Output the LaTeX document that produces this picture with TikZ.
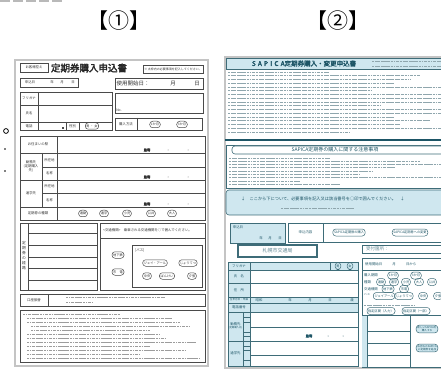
\documentclass[tikz,border=0pt]{standalone}
\usepackage{fontspec}
\newfontfamily\jp{Noto Sans CJK JP}
\newfontfamily\jpb[FakeBold=2.5]{Noto Sans CJK JP}
\usetikzlibrary{shapes.geometric}
\definecolor{lgray}{HTML}{4A4A4A}
\definecolor{pgray}{HTML}{C4C4C4}
\definecolor{rblue}{HTML}{CFE7EF}
\definecolor{rline}{HTML}{3E6C78}
\definecolor{rdark}{HTML}{1D5566}
\definecolor{blurc}{HTML}{9C9C9C}
\definecolor{rblurc}{HTML}{8FA6AD}
\newcommand\myov[4][ov]{\node[#1] (#2) at (#3) {#4};}
\begin{document}
\begin{tikzpicture}[x=1pt,y=-1pt,
  lb/.style={draw=lgray,line width=0.6pt},
  rb/.style={draw=rline,line width=0.6pt},
  tx/.style={font=\jp\fontsize{3.4}{3.8}\selectfont,text=black!80,inner sep=0pt},
  rtx/.style={font=\jp\fontsize{3.4}{3.8}\selectfont,text=rdark,inner sep=0pt},
  ov/.style={draw=lgray,line width=0.5pt,rounded corners=3pt,minimum height=6.5pt,inner sep=1.2pt,font=\jp\fontsize{3.2}{3.2}\selectfont,text=black!80},
  rov/.style={draw=rline,line width=0.5pt,rounded corners=3pt,minimum height=7pt,inner sep=1.2pt,font=\jp\fontsize{3.2}{3.2}\selectfont,text=rdark},
  bl/.style={draw=blurc,line width=1pt,dash pattern=on 2.2pt off 0.6pt on 1.4pt off 0.5pt on 3pt off 0.9pt},
  rbl/.style={draw=rblurc,line width=0.9pt,dash pattern=on 2.4pt off 0.6pt on 1.6pt off 0.5pt on 3.2pt off 1pt},
]
\useasboundingbox (0,0) rectangle (441,371);
\clip (0,0) rectangle (441,371);
\fill[white] (0,0) rectangle (441,371);

% top-left marks and cut-off characters
\foreach \x in {0,13,26,39,52} \fill[gray!55] (\x,0) rectangle (\x+10,2.2);
\draw[black,line width=0.8pt] (6,131) circle (2.4);
\fill[black] (5,149) circle (0.9);
\fill[black] (5,171) circle (0.9);

% labels
\node[font=\jp\fontsize{21}{21}\selectfont] (lab1) at (119,21) {【①】};
\node[font=\jp\fontsize{21}{21}\selectfont] (lab2) at (338,21) {【②】};

%================ LEFT PAGE =================
\draw[pgray,line width=1.3pt] (15,60) rectangle (208,366);
% header
\draw[lb] (20,63) rectangle (48,72);
\node[tx] (hA) at (34,67.5) {お客様控え};
\node[font=\jpb\fontsize{9.5}{9.5}\selectfont,text=black!85] (hT) at (89,68) {定期券購入申込書};
\draw[lb] (143,65) rectangle (203,73);
\node[tx,font=\jp\fontsize{3}{3}\selectfont] (hR) at (173,69) {※ 太枠内の必要事項を記入してください。};
% date rows
\draw[lb] (20,78) rectangle (78,87);
\node[tx] (d1) at (30,82.5) {申込日};
\node[tx] (d2) at (52,82.5) {年};
\node[tx] (d3) at (62,82.5) {月};
\node[tx] (d4) at (73,82.5) {日};
\draw[lb] (115,78) rectangle (203,89);
\node[font=\jp\fontsize{5.5}{5.5}\selectfont,text=black!80,inner sep=0pt] (u1) at (133,83.5) {使用開始日：};
\node[font=\jp\fontsize{5.5}{5.5}\selectfont,text=black!80,inner sep=0pt] (u2) at (173,83.5) {月};
\node[font=\jp\fontsize{5.5}{5.5}\selectfont,text=black!80,inner sep=0pt] (u3) at (197,83.5) {日};
% name block
\draw[lb] (20,92) rectangle (112,130);
\draw[lb] (20,105) -- (112,105) (20,122) -- (112,122) (38,92) -- (38,130);
\node[tx] (n1) at (29,98.5) {フリガナ};
\node[tx] (n2) at (29,113.5) {氏名};
\node[tx] (n3) at (29,126) {電話};
\fill[lgray] (62,127) rectangle (64,129);
\draw[lb] (66,122) -- (66,130) (79,122) -- (79,130);
\node[tx] (n4) at (72.5,126) {性別};
\myov{n5}{92,126}{男 ・ 女}
% right blocks
\draw[lb] (115,93) rectangle (203,113);
\node[tx] (r0) at (119,110) {No.};
\draw[lb] (115,118) rectangle (202,130);
\draw[lb] (137,118) -- (137,130);
\node[tx] (r1) at (126,124) {購入方法};
\myov{r2}{155,124.5}{1か月}
\myov{r3}{182,124.5}{3か月}
% big table
\draw[lb] (20,136) rectangle (205,220);
\draw[lb] (20,153) -- (205,153) (42,167) -- (205,167) (20,180) -- (205,180)
          (42,193) -- (205,193) (20,207) -- (205,207)
          (57,136) -- (57,220) (42,153) -- (42,207);
\node[tx] (b1) at (38,144.5) {お住まいの駅};
\node[tx,align=center] (b2) at (31,166.5) {勤務先\\(定期購入\\先)};
\node[tx] (b3) at (31,193.5) {通学先};
\node[tx] (b4) at (49.5,160) {所在地};
\node[tx] (b5) at (49.5,173.5) {名称};
\node[tx] (b6) at (49.5,186.5) {所在地};
\node[tx] (b7) at (49.5,200) {名称};
\node[tx,font=\jpb\fontsize{3.4}{3.4}\selectfont] (m1) at (147,150) {最寄};
\node[tx,font=\jpb\fontsize{3.4}{3.4}\selectfont] (m2) at (147,177) {最寄};
\node[tx,font=\jpb\fontsize{3.4}{3.4}\selectfont] (m3) at (147,204) {最寄};
\foreach \yy in {150,177,204} {\fill[gray] (168,\yy) circle (0.5); \fill[gray] (188,\yy) circle (0.5);}
\node[tx] (b8) at (38,213.5) {定期券の種類};
\myov{k1}{83,213.5}{通勤}
\myov{k2}{104,213.5}{通学}
\myov{k3}{127,213.5}{小児}
\myov{k4}{151,213.5}{公共}
\myov{k5}{172,213.5}{大人}
% route box
\draw[lb] (20,223) rectangle (97,290);
\draw[lb] (28,223) -- (28,290);
\foreach \yy in {233,245,257,268,280} \draw[lb] (28,\yy) -- (97,\yy);
\node[tx,align=center,font=\jp\fontsize{3.8}{5}\selectfont] (v1) at (24,256) {定\\期\\券\\の\\経\\路};
\draw[lb] (100,223) rectangle (205,290);
\draw[lb] (100,238) -- (205,238);
\node[tx,anchor=west] (c1) at (103,230.5) {<交通機関>\quad 乗車される交通機関を○で囲んでください。};
\draw[lb] (132,245) rectangle (202,287);
\node[tx,anchor=west] (c2) at (135,250) {[バス]};
\myov{c3}{118,255}{地下鉄}
\myov{c4}{118,272}{市　電}
\myov{c5}{155,263}{ジェイ・アール}
\myov{c6}{188,263}{じょうてつ}
\myov{c7}{147,276}{中央}
\myov{c8}{167,276}{ばんけい}
\myov{c9}{192,276}{夕張}
% bank row
\draw[lb] (20,294) rectangle (205,306);
\draw[lb] (48,294) -- (48,306);
\node[tx] (p1) at (34,300) {口座振替};
\draw[bl,line width=0.8pt] (66,297.5) -- (165,297.5);
\draw[bl,line width=0.8pt] (66,302) -- (92,302);
% notes
\draw[lb] (20,310) rectangle (205,362);
\foreach \yy/\a/\b in {314/23/120,318/27/172,322/27/180,326/31/190,330/31/150,334/27/160,338/27/165,342/27/196,346/27/150,350/27/185,354/27/140,358/27/200}
  \draw[bl,line width=0.9pt] (\a,\yy) -- (\b,\yy);

%================ RIGHT PAGE =================
\draw[pgray,line width=1.3pt] (225,57) rectangle (460,368);
\fill[rblue] (226,58) rectangle (441,69);
\draw[rb] (226,58) rectangle (460,69);
\node[font=\jpb\fontsize{6.5}{6.5}\selectfont,text=rdark,inner sep=0pt] (sT) at (304,63.5) {S\,\,A\,\,P\,\,I\,\,C\,\,A定期券購入・変更申込書};
\draw[rbl,line width=0.7pt] (372,61) -- (441,61);
\draw[rbl,line width=0.7pt] (372,66) -- (441,66);
% intro text lines
\foreach \i/\b in {0/330,1/420,2/410,3/395,4/441,5/372,6/441,7/441,8/441,9/380,10/441,11/441,12/395,13/430,14/400,15/441,16/350}
  \draw[rbl] (228,{72+\i*3.75}) -- (\b,{72+\i*3.75});
\draw[rdark,line width=2pt] (225,140) -- (441,140);
% cautions box
\draw[rb] (226,145) rectangle (460,188);
\draw[rb,fill=white,rounded corners=3pt] (232,146) rectangle (455,154);
\node[font=\jp\fontsize{5}{5}\selectfont,text=rdark,inner sep=0pt] (sC) at (335,150) {SAPICA定期券の購入に関する注意事項};
\foreach \i/\b in {0/330,1/420,2/441,3/395,4/372,5/360,6/441,7/300,8/340}
  \draw[rbl,line width=0.8pt] (229,{158+\i*3.3}) -- (\b,{158+\i*3.3});
% banner
\draw[rb,fill=rblue,rounded corners=3pt] (226,190) rectangle (455,215);
\node[font=\jp\fontsize{4.2}{4.2}\selectfont,text=rdark,inner sep=0pt,anchor=west] (sB) at (241,199) {↓\quad ここから下について、必要事項を記入又は該当番号を○印で囲んでください。\quad ↓};
\draw[rbl,line width=0.7pt] (281,208) -- (355,208);
% apply date
\draw[rb,fill=rblue] (230,223) rectangle (285,243);
\node[rtx] (a1) at (238,227) {申込日};
\node[rtx] (a2) at (261,238.5) {年};
\node[rtx] (a3) at (270,238.5) {月};
\node[rtx] (a4) at (280,238.5) {日};
\draw[rb] (288,223) rectangle (460,242);
\draw[rb] (323,223) -- (323,242);
\node[rtx] (a5) at (305.5,232.5) {申込内容};
\myov[rov]{a6}{349,232.5}{SAPICA定期券の購入}
\myov[rov]{a7}{410,232.5}{SAPICA定期券への変更}
% office
\draw[rline,line width=1.1pt] (238,245) rectangle (317,257);
\node[font=\jp\fontsize{5}{5}\selectfont,text=rdark!70,inner sep=0pt] (o1) at (277.5,251) {札幌市交通局};
\draw[rb] (362,245) rectangle (460,253);
\node[font=\jp\fontsize{4.5}{4.5}\selectfont,text=rdark!70,inner sep=0pt,anchor=west] (o2) at (366,249) {受付箇所：};
% left form table
\fill[rblue] (228,262) rectangle (358,270);
\fill[rblue] (228,297) rectangle (358,312);
\fill[rblue] (228,270) rectangle (250,297);
\fill[rblue] (228,312) rectangle (250,366);
\draw[rb] (228,262) rectangle (358,366);
\foreach \yy in {270,283,297,303,312,341} \draw[rb] (228,\yy) -- (358,\yy);
\draw[rb] (250,327) -- (358,327) (250,355) -- (358,355);
\draw[rb] (250,262) -- (250,366) (243,312) -- (243,366);
\foreach \yy in {317,322,332,336,346,350,360} \draw[rline,line width=0.3pt] (243,\yy) -- (250,\yy);
\node[rtx] (f1) at (239,266) {フリガナ};
\node[rtx] (f2) at (239,276.5) {氏\quad 名};
\node[rtx] (f3) at (239,290) {住\quad 所};
\node[rtx,font=\jp\fontsize{2.6}{2.6}\selectfont] (f4) at (239,300) {生年月日・年齢};
\node[rtx] (f5) at (239,307.5) {電話番号};
\node[rtx,align=center] (f6) at (235.5,326) {勤務先\\[-1pt]{\fontsize{2.4}{2.4}\selectfont (定期購入先)}};
\node[rtx] (f7) at (235.5,353.5) {通学先};
\draw[rb] (330,262) -- (330,270);
\myov[rov]{f8}{338,266}{男}
\myov[rov]{f9}{350,266}{女}
\node[rtx] (g1) at (259,300) {昭和};
\node[rtx] (g2) at (290,300) {年};
\node[rtx] (g3) at (310,300) {月};
\node[rtx] (g4) at (330,300) {日};
\node[rtx] (g5) at (352,300) {歳};
\node[rtx,font=\jpb\fontsize{3.4}{3.4}\selectfont] (g6) at (309,336) {最寄};
\fill[rline] (328,336) circle (0.5); \fill[rline] (343,336) circle (0.5);
% right form table
\draw[rb] (362,258) rectangle (460,367);
\draw[rb] (362,270) -- (460,270) (362,315) -- (460,315);
\node[rtx,anchor=west] (h1) at (365,264) {使用開始日\qquad\quad 月\qquad\quad 日から};
\node[rtx,anchor=west] (h2) at (364,275.5) {購入期間};
\myov[rov]{h3}{393,275.5}{1か月}
\myov[rov]{h4}{416,275.5}{3か月}
\node[rtx,anchor=west] (h5) at (364,282) {種類};
\myov[rov]{h6}{381,282}{通勤}
\myov[rov]{h7}{394,282}{通学}
\myov[rov]{h8}{406,282}{小児}
\myov[rov]{h9}{419,282}{大人}
\myov[rov]{h10}{432,282}{公共}
\node[rtx,anchor=west] (h11) at (364,289) {交通機関};
\myov[rov]{h12}{388,289}{地下鉄}
\myov[rov]{h13}{404,289}{市電}
\node[rtx,anchor=west,font=\jp\fontsize{2.6}{2.6}\selectfont] (h14) at (364,294.5) {バ ス};
\myov[rov]{h15}{384,296}{ジェイアール}
\myov[rov]{h16}{404,296}{じょうてつ}
\myov[rov]{h17}{423,296}{中央}
\myov[rov]{h18}{438,296}{夕張}
\draw[rbl,line width=0.6pt] (364,305) -- (414,305);
\myov[rov]{h19}{381,311}{指定区間（入力）}
\myov[rov]{h20}{416,311}{指定区間（一部）}
\draw[rb] (367,315) -- (367,367);
\fill[rblue] (362,315) rectangle (367,367);
\draw[rb] (362,315) -- (367,315);
\foreach \yy in {331,343,355} \draw[rb] (367,\yy) -- (410,\yy);
\draw[rb] (410,315) -- (410,367);
\myov[rov,fill=rblue,align=center,font=\jp\fontsize{2.6}{3}\selectfont]{h21}{427,329}{新しいSAPICAを\\購入する};
\myov[rov,fill=rblue,align=center,font=\jp\fontsize{2.6}{3}\selectfont]{h22}{427,348}{お持ちのSAPICA\\に定期券を追加};
\end{tikzpicture}
\end{document}
